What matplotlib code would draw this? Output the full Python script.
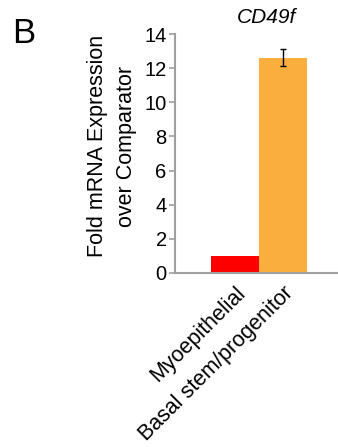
import matplotlib.pyplot as plt

plt.rcParams['font.family'] = ['Liberation Sans', 'DejaVu Sans']

cell_types = ["Myoepithelial", "Basal stem/progenitor"]
fold_change = [1.0, 12.6]
fold_err = [0.0, 0.5]
bar_colors = ["#ff0000", "#f9ae3d"]

fig = plt.figure(figsize=(3.38, 4.47), dpi=100)
ax = fig.add_axes([175 / 338, 1 - 273 / 447, 1 - 175 / 338, (273 - 34) / 447])

x = range(len(cell_types))
ax.bar(x, fold_change, width=1.0, color=bar_colors)
ax.errorbar([1], [fold_change[1]], yerr=[fold_err[1]], fmt="none",
            ecolor="black", elinewidth=1, capsize=2.5, capthick=1)

ax.set_xlim(-1.25, 2.15)
ax.set_ylim(0, 14)
ax.set_yticks(range(0, 15, 2))
ax.set_xticks(list(x))
ax.set_xticklabels(cell_types, rotation=45, ha="right", rotation_mode="anchor",
                   fontsize=15.5)
ax.tick_params(axis="y", labelsize=14.5, length=4, width=1.2, color="#a0a0a0", pad=2)
ax.tick_params(axis="x", length=0, pad=7)

for side in ["top", "right"]:
    ax.spines[side].set_visible(False)
for side in ["left", "bottom"]:
    ax.spines[side].set_color("#a0a0a0")
    ax.spines[side].set_linewidth(1.5)

ax.set_ylabel("Fold mRNA Expression\nover Comparator", fontsize=15.5,
              linespacing=1.45)
ax.yaxis.set_label_coords(-0.235, 0.53)
ax.set_title("CD49f", fontstyle="italic", fontsize=15, pad=8, x=0.56)

fig.text(12 / 338, 1 - 43 / 447, "B", fontsize=25)

fig.savefig("out.png", dpi=100)
